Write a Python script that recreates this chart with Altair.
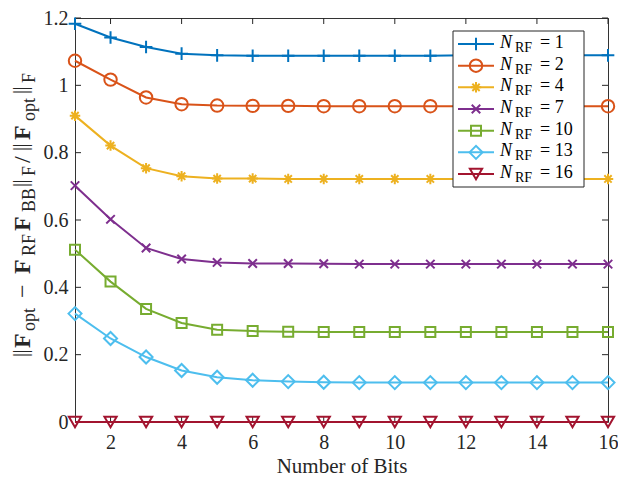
import altair as alt
import pandas as pd

# ---------------- data ----------------
bits = list(range(1, 17))
series_names = ["1", "2", "4", "7", "10", "13", "16"]

err_n1 = [1.183, 1.142, 1.114, 1.094, 1.089, 1.088, 1.088, 1.088, 1.088, 1.088, 1.088, 1.089, 1.089, 1.089, 1.089, 1.089]
err_n2 = [1.073, 1.017, 0.964, 0.944, 0.940, 0.939, 0.939, 0.938, 0.938, 0.938, 0.938, 0.938, 0.938, 0.938, 0.938, 0.938]
err_n4 = [0.910, 0.821, 0.754, 0.730, 0.723, 0.723, 0.722, 0.722, 0.722, 0.722, 0.722, 0.722, 0.722, 0.722, 0.722, 0.722]
err_n7 = [0.702, 0.602, 0.517, 0.484, 0.474, 0.471, 0.471, 0.470, 0.469, 0.469, 0.469, 0.469, 0.469, 0.469, 0.469, 0.469]
err_n10 = [0.512, 0.417, 0.336, 0.294, 0.274, 0.270, 0.268, 0.267, 0.267, 0.267, 0.267, 0.267, 0.267, 0.267, 0.267, 0.267]
err_n13 = [0.322, 0.248, 0.193, 0.153, 0.133, 0.124, 0.120, 0.118, 0.117, 0.117, 0.117, 0.117, 0.117, 0.117, 0.117, 0.117]
err_n16 = [0.0] * 16

all_series = [err_n1, err_n2, err_n4, err_n7, err_n10, err_n13, err_n16]

x_ticks = [2, 4, 6, 8, 10, 12, 14, 16]
y_ticks = [0, 0.2, 0.4, 0.6, 0.8, 1.0, 1.2]

# ---------------- styles ----------------
colors = ["#0072BD", "#D95319", "#EDB120", "#7E2F8E", "#77AC30", "#4DBEEE", "#A2142F"]
shapes = [
    "M-1,0L1,0M0,-1L0,1",
    "circle",
    "M-1,0L1,0M0,-1L0,1M-0.7,-0.7L0.7,0.7M-0.7,0.7L0.7,-0.7",
    "M-1,-1L1,1M-1,1L1,-1",
    "square",
    "diamond",
    "triangle-down",
]
sizes = [160, 155, 110, 72, 100, 170, 150]
FONT = "Liberation Serif"
INK = "#262626"
W, H = 533, 404
TOP = 18      # page y of plot top
LEFT = 75     # page x of plot left

x_scale = alt.Scale(domain=[1, 16], nice=False, zero=False)
y_scale = alt.Scale(domain=[0, 1.2], nice=False)
x_axis = alt.Axis(values=x_ticks, title="Number of Bits", ticks=False, domain=False, grid=False,
                  labelFont=FONT, labelFontSize=20, labelColor=INK, labelPadding=10,
                  labelFlush=False, labelOverlap=False,
                  titleFont=FONT, titleFontSize=21, titleFontWeight="normal", titleColor=INK,
                  titleY=50, titleBaseline="alphabetic")
y_axis = alt.Axis(values=y_ticks, format=".1~f", title=None, ticks=False, domain=False, grid=False,
                  labelFont=FONT, labelFontSize=20, labelColor=INK, labelPadding=7,
                  labelFlush=False, labelOverlap=False)

# inward ticks on all four sides
xt = pd.DataFrame({"bits": x_ticks})
yt = pd.DataFrame({"err": y_ticks})
TL = 6
tick_kw = dict(color=INK, strokeWidth=1)
xb = alt.Chart(xt).mark_rule(**tick_kw).encode(
    x=alt.X("bits:Q", scale=x_scale, axis=x_axis), y=alt.value(H), y2=alt.value(H - TL))
xtp = alt.Chart(xt).mark_rule(**tick_kw).encode(
    x=alt.X("bits:Q", scale=x_scale, axis=x_axis), y=alt.value(0), y2=alt.value(TL))
yl = alt.Chart(yt).mark_rule(**tick_kw).encode(
    y=alt.Y("err:Q", scale=y_scale, axis=y_axis), x=alt.value(0), x2=alt.value(TL))
yr = alt.Chart(yt).mark_rule(**tick_kw).encode(
    y=alt.Y("err:Q", scale=y_scale, axis=y_axis), x=alt.value(W - TL), x2=alt.value(W))

series_layers = []
for name, vals, c, sh, sz in zip(series_names, all_series, colors, shapes, sizes):
    d = pd.DataFrame({"bits": bits, "err": vals})
    enc = dict(x=alt.X("bits:Q", scale=x_scale, axis=x_axis),
               y=alt.Y("err:Q", scale=y_scale, axis=y_axis))
    series_layers.append(alt.Chart(d).mark_line(color=c, strokeWidth=2).encode(**enc))
    series_layers.append(alt.Chart(d).mark_point(shape=sh, size=sz, color=c, filled=False,
                                                 strokeWidth=2, opacity=1).encode(**enc))

main = alt.layer(xb, xtp, yl, yr, *series_layers)

# ---------------- legend ----------------
LX0, LX1, LY0, LY1 = 378, 509, 31 - TOP, 187 - TOP
ROW0, ROWSTEP = 44 - TOP, 21.67
leg_layers = [
    alt.Chart(pd.DataFrame({"a": [0]})).mark_rect(fill="white", stroke=INK, strokeWidth=1).encode(
        x=alt.value(LX0), x2=alt.value(LX1), y=alt.value(LY0), y2=alt.value(LY1))
]
for i, (name, c, sh, sz) in enumerate(zip(series_names, colors, shapes, sizes)):
    yc = ROW0 + ROWSTEP * i
    d = pd.DataFrame({"lab": [name]})
    leg_layers.append(alt.Chart(d).mark_rule(color=c, strokeWidth=2).encode(
        x=alt.value(383), x2=alt.value(419), y=alt.value(yc)))
    leg_layers.append(alt.Chart(d).mark_point(shape=sh, size=sz, color=c, filled=False,
                                              strokeWidth=2, opacity=1).encode(
        x=alt.value(401), y=alt.value(yc)))
    leg_layers.append(alt.Chart(d).mark_text(font=FONT, fontSize=18, fontStyle="italic", align="left",
                                             baseline="alphabetic", color="black", text="N").encode(
        x=alt.value(425), y=alt.value(yc + 4)))
    leg_layers.append(alt.Chart(d).mark_text(font=FONT, fontSize=14, align="left",
                                             baseline="alphabetic", color="black", text="RF").encode(
        x=alt.value(440), y=alt.value(yc + 8)))
    leg_layers.append(alt.Chart(d).mark_text(font=FONT, fontSize=18, align="left",
                                             baseline="alphabetic", color="black").encode(
        x=alt.value(465), y=alt.value(yc + 4), text=alt.Text("eqlab:N")).transform_calculate(
        eqlab="'= ' + datum.lab"))

# ---------------- y-axis title (rotated, built from pieces) ----------------
# (kind, text, page-y of piece start)
title_pieces = [
    ("bar", "|", 357), ("bar", "|", 353.5),
    ("bold", "F", 348), ("sub", "opt", 331),
    ("reg", "\u2212", 298),
    ("bold", "F", 274), ("sub", "RF", 256),
    ("bold", "F", 231), ("sub", "BB", 212),
    ("bar", "|", 187), ("bar", "|", 183.5), ("sub", "F", 176),
    ("reg", "/", 163),
    ("bar", "|", 151), ("bar", "|", 147.5),
    ("bold", "F", 140), ("sub", "opt", 121),
    ("bar", "|", 94), ("bar", "|", 90.5), ("sub", "F", 83),
]
baseline_x = {"bold": 30, "reg": 30, "bar": 27, "sub": 35}
style = {"bold": (24, "bold"), "reg": (24, "normal"), "bar": (21, "normal"), "sub": (18, "normal")}
title_layers = []
for kind, s, py in title_pieces:
    fs, fw = style[kind]
    title_layers.append(
        alt.Chart(pd.DataFrame({"s": [s]})).mark_text(
            font=FONT, fontSize=fs, fontWeight=fw, angle=270, align="left",
            baseline="alphabetic", color=INK).encode(
            x=alt.value(baseline_x[kind] - LEFT), y=alt.value(py - TOP), text="s:N"))

chart = alt.layer(
    main, *leg_layers, *title_layers,
).properties(
    width=W, height=H,
    autosize=alt.AutoSizeParams(type="none"),
    padding={"left": 67, "top": 10, "right": 10, "bottom": 58},
).configure(
    background="white", font=FONT
).configure_view(
    stroke="#333333", strokeWidth=1
).configure_axis(
    labelFont=FONT, titleFont=FONT
).configure_text(font=FONT)

chart.save("out.html", embed_options={"renderer": "svg", "actions": False})
